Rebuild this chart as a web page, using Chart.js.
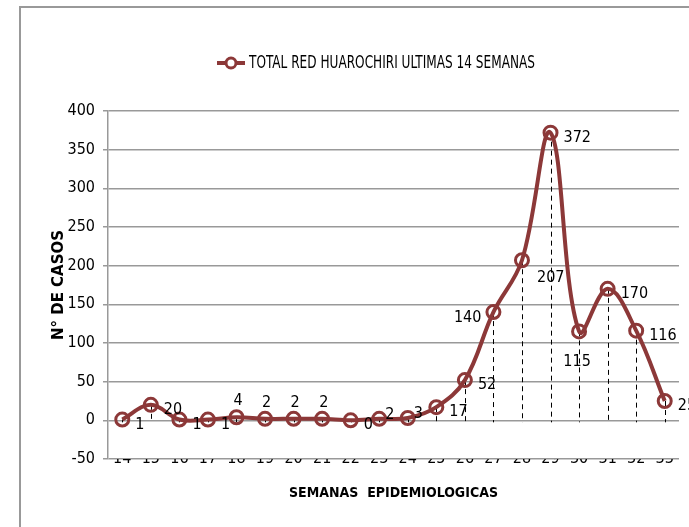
<!DOCTYPE html>
<html>
<head>
<meta charset="utf-8">
<script src="https://cdn.jsdelivr.net/npm/chart.js@4/dist/chart.umd.min.js"></script>
<style>
  body { margin: 0; background: #fff; }
  #chart { display: block; }
</style>
</head>
<body>
<canvas id="chart" width="689" height="527"></canvas>
<script>
// weeks and cases
var weeks = ['14', '15', '16', '17', '18', '19', '20', '21', '22', '23',
             '24', '25', '26', '27', '28', '29', '30', '31', '32', '33'];
var cases = [1, 20, 1, 1, 4, 2, 2, 2, 0, 2,
             3, 17, 52, 140, 207, 372, 115, 170, 116, 25];
var seriesName = 'TOTAL RED HUAROCHIRI ULTIMAS 14 SEMANAS';
var yTicks = [-50, 0, 50, 100, 150, 200, 250, 300, 350, 400];
// where each value label sits next to its point (r=right, a=above, ur=up-right, l=left, br=below-right, b=below)
var labelSpots = ['r', 'r', 'r', 'r', 'a', 'a', 'a', 'a', 'r', 'ur',
                  'ur', 'r', 'r', 'l', 'br', 'r', 'b', 'r', 'r', 'r'];

var red = '#8C3838';
var narrow = "'Liberation Sans Narrow', 'DejaVu Sans Condensed', sans-serif";

// gray frame round the chart + white background
var framePlugin = {
  id: 'frame',
  beforeDraw: function(chart) {
    var ctx = chart.ctx;
    ctx.save();
    ctx.fillStyle = '#fff';
    ctx.fillRect(0, 0, chart.width, chart.height);
    ctx.strokeStyle = '#999';
    ctx.lineWidth = 2;
    ctx.strokeRect(20, 7, 700, 600);
    ctx.restore();
  }
};

// dashed drop lines from each point down to zero
var dropPlugin = {
  id: 'drops',
  beforeDatasetsDraw: function(chart) {
    var ctx = chart.ctx;
    var meta = chart.getDatasetMeta(0);
    var y0 = chart.scales.y.getPixelForValue(0);
    ctx.save();
    ctx.strokeStyle = '#000';
    ctx.lineWidth = 1;
    ctx.setLineDash([5, 4]);
    meta.data.forEach(function(p) {
      ctx.beginPath();
      ctx.moveTo(Math.round(p.x) + 0.5, p.y);
      ctx.lineTo(Math.round(p.x) + 0.5, y0 + 2);
      ctx.stroke();
    });
    ctx.restore();
  }
};

// value labels
var valuePlugin = {
  id: 'values',
  afterDatasetsDraw: function(chart) {
    var ctx = chart.ctx;
    var meta = chart.getDatasetMeta(0);
    ctx.save();
    ctx.font = '16px ' + narrow;
    ctx.fillStyle = '#000';
    ctx.textBaseline = 'middle';
    meta.data.forEach(function(p, i) {
      var txt = String(cases[i]);
      var spot = labelSpots[i];
      var x = p.x, y = p.y;
      ctx.textAlign = 'left';
      if (spot == 'r') { x += 13; y += 5; }
      else if (spot == 'a') { x -= 3; y -= 16; }
      else if (spot == 'ur') { x += 6; y -= 4; }
      else if (spot == 'l') { ctx.textAlign = 'right'; x -= 12; y += 6; }
      else if (spot == 'br') { x += 15; y += 18; }
      else if (spot == 'b') { ctx.textAlign = 'center'; x -= 2; y += 30; }
      ctx.fillText(txt, x, y);
    });
    ctx.restore();
  }
};

// legend drawn Excel style: line with a ring on it
var legendPlugin = {
  id: 'excelLegend',
  afterDraw: function(chart) {
    var ctx = chart.ctx;
    ctx.save();
    ctx.strokeStyle = red;
    ctx.lineWidth = 4;
    ctx.beginPath();
    ctx.moveTo(217, 63);
    ctx.lineTo(245, 63);
    ctx.stroke();
    ctx.lineWidth = 3;
    ctx.fillStyle = '#fff';
    ctx.beginPath();
    ctx.arc(231, 63, 5, 0, Math.PI * 2);
    ctx.fill();
    ctx.stroke();
    ctx.fillStyle = '#000';
    ctx.font = '17px ' + narrow;
    ctx.textBaseline = 'middle';
    var w = ctx.measureText(seriesName).width;
    ctx.translate(249, 63);
    ctx.scale(286 / w, 1);
    ctx.fillText(seriesName, 0, 1);
    ctx.restore();
  }
};

var ctx = document.getElementById('chart').getContext('2d');
var chart = new Chart(ctx, {
  type: 'line',
  data: {
    labels: weeks,
    datasets: [{
      label: seriesName,
      data: cases,
      borderColor: red,
      borderWidth: 4,
      tension: 0.38,
      pointRadius: 6.5,
      pointBorderWidth: 3,
      pointBorderColor: red,
      pointBackgroundColor: 'rgba(255,255,255,0)',
      pointHoverRadius: 6.5,
      clip: false
    }]
  },
  options: {
    responsive: false,
    animation: false,
    events: [],
    layout: { padding: { top: 111, right: 10, left: 0, bottom: 0 } },
    plugins: {
      legend: { display: false },
      tooltip: { enabled: false }
    },
    scales: {
      x: {
        offset: true,
        grid: { display: false, drawTicks: false },
        border: { display: false },
        ticks: { color: '#000', padding: -10, maxRotation: 0, autoSkip: false,
                 font: { family: narrow, size: 16 } },
        title: { display: true, text: 'SEMANAS  EPIDEMIOLOGICAS', color: '#000',
                 font: { family: narrow, size: 14, weight: 'bold' },
                 padding: { top: 0, bottom: 25 } },
        afterFit: function(s) { s.height = 68; }
      },
      y: {
        min: -50,
        max: 400,
        afterBuildTicks: function(s) {
          s.ticks = yTicks.map(function(v) { return { value: v }; });
        },
        grid: { color: '#999', lineWidth: 1.5, tickLength: 5 },
        border: { color: '#999', width: 1.5 },
        ticks: { color: '#000', padding: 8, font: { family: narrow, size: 16 } },
        title: { display: true, text: 'N° DE CASOS', color: '#000',
                 font: { family: "'DejaVu Sans', sans-serif", size: 15, weight: 'bold' },
                 padding: { top: 50, bottom: 0 } },
        afterFit: function(s) { s.width = 108; }
      }
    }
  },
  plugins: [framePlugin, dropPlugin, valuePlugin, legendPlugin]
});
</script>
</body>
</html>
